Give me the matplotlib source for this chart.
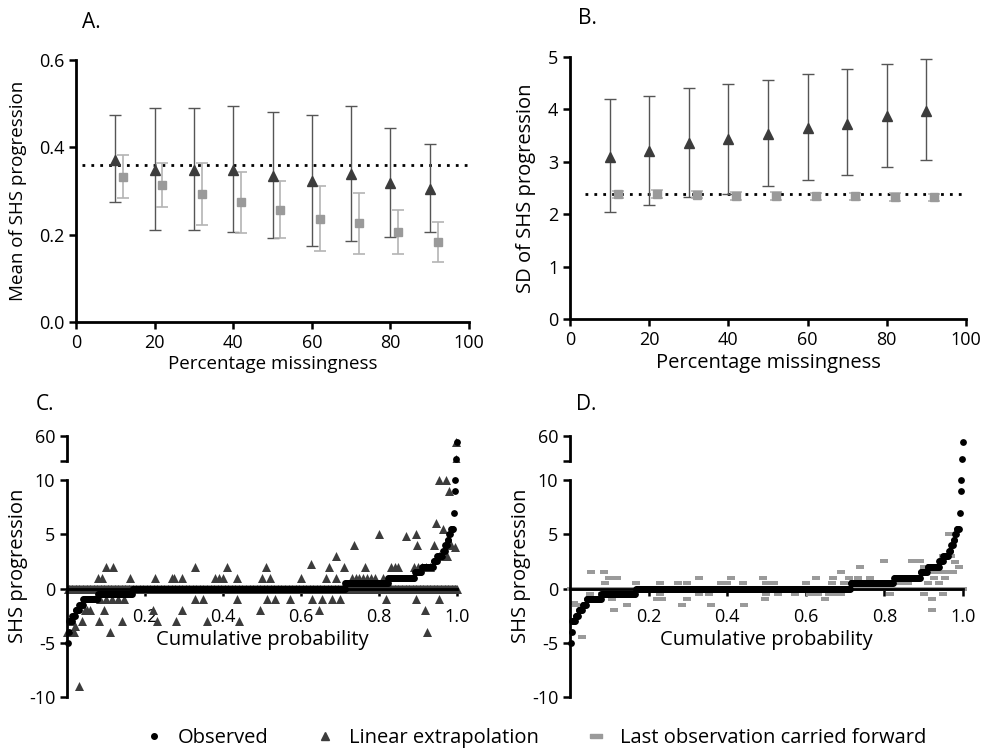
import numpy as np
import matplotlib.pyplot as plt
from matplotlib.lines import Line2D

plt.rcParams['font.family'] = ['Open Sans', 'DejaVu Sans']
plt.rcParams['axes.unicode_minus'] = False

# ---- panel A / B data: percentage missingness ----
pct_le = [10, 20, 30, 40, 50, 60, 70, 80, 90]
pct_locf = [12, 22, 32, 42, 52, 62, 72, 82, 92]

mean_le = [0.371, 0.348, 0.348, 0.348, 0.335, 0.322, 0.339, 0.318, 0.305]
mean_le_hi = [0.474, 0.489, 0.489, 0.495, 0.482, 0.473, 0.495, 0.445, 0.407]
mean_le_lo = [0.274, 0.211, 0.211, 0.205, 0.192, 0.173, 0.185, 0.194, 0.207]
mean_locf = [0.333, 0.313, 0.293, 0.274, 0.257, 0.237, 0.227, 0.207, 0.184]
mean_locf_hi = [0.383, 0.364, 0.364, 0.343, 0.322, 0.312, 0.296, 0.257, 0.229]
mean_locf_lo = [0.284, 0.263, 0.223, 0.204, 0.192, 0.162, 0.156, 0.156, 0.138]
mean_observed = 0.36

sd_le = [3.10, 3.20, 3.35, 3.43, 3.53, 3.65, 3.73, 3.87, 3.97]
sd_le_hi = [4.19, 4.26, 4.41, 4.49, 4.56, 4.68, 4.78, 4.87, 4.96]
sd_le_lo = [2.05, 2.17, 2.32, 2.38, 2.53, 2.66, 2.74, 2.91, 3.04]
sd_locf = [2.38, 2.38, 2.37, 2.35, 2.35, 2.34, 2.34, 2.33, 2.32]
sd_locf_hi = [2.45, 2.46, 2.44, 2.43, 2.42, 2.41, 2.41, 2.41, 2.39]
sd_locf_lo = [2.31, 2.30, 2.30, 2.28, 2.28, 2.27, 2.27, 2.25, 2.25]
sd_observed = 2.39

# ---- panel C / D data: observed SHS progression distribution ----
obs_levels = [-5, -4, -3, -2.5, -2, -1.5, -1, -0.5, 0, 0.5, 1, 1.5, 2, 2.5,
              3, 3.5, 4, 4.5, 5, 5.5, 7, 9, 10, 23, 50]
obs_counts = [1, 1, 4, 4, 5, 5, 19, 44, 273, 55, 34, 9, 15, 5,
              7, 3, 3, 2, 2, 4, 1, 1, 1, 1, 1]

# linear extrapolation: non-zero imputed values (cum. probability, value)
le_p = [0.0, 0.013, 0.02, 0.017, 0.038, 0.03, 0.051, 0.06, 0.045, 0.083, 0.08,
        0.09, 0.094, 0.10, 0.118, 0.11, 0.085, 0.10, 0.115, 0.13, 0.145, 0.142,
        0.162, 0.22, 0.226, 0.23, 0.27, 0.274, 0.28, 0.294, 0.294, 0.327, 0.328,
        0.35, 0.36, 0.38, 0.39, 0.40, 0.41, 0.435, 0.437, 0.442, 0.495, 0.50,
        0.509, 0.512, 0.52, 0.533, 0.572, 0.60, 0.625, 0.627, 0.647, 0.655,
        0.665, 0.672, 0.68, 0.69, 0.69, 0.70, 0.71, 0.73, 0.735, 0.74, 0.75,
        0.76, 0.764, 0.77, 0.78, 0.79, 0.80, 0.81, 0.817, 0.83, 0.84, 0.85,
        0.87, 0.89, 0.894, 0.896, 0.898, 0.90, 0.91, 0.917, 0.92, 0.923, 0.93,
        0.94, 0.947, 0.954, 0.954, 0.955, 0.96, 0.964, 0.971, 0.975, 0.98,
        0.985, 0.994, 0.997, 0.998]
le_y = [-4, -3, -3.5, -4, -3, -9, -2, -2, -2, -3, 1, 1, -2, 2, 2, -4, -1, -1,
        -1, -1, -1, -3, 1, -2, 1, -3, 1, 1, -3, 1, -2, 2, -1, -1, -3, 1, 1, 1,
        2, -1, 1, -3, -2, 1, 2, -1, 1, -1, -1, 1, 2.3, -1, -2, -1, 1, 2, -1,
        3, 1, -1, 2, 1, 4, 1, 1, 1, 2, 1, 1, 1, 5, 1, -1, 2, 2, 2, 4.8, 2, 5,
        -1, 4, 2, 2, -2, 2, -4, 2, 4, 6, 10, -1, 3, 3, 5.5, 10, 3, 9, 4, 3.8,
        23, 50]

# last observation carried forward: non-zero imputed values
locf_p = [0.01, 0.014, 0.03, 0.05, 0.053, 0.082, 0.086, 0.09, 0.10, 0.107,
          0.11, 0.113, 0.12, 0.144, 0.167, 0.222, 0.229, 0.229, 0.235, 0.275,
          0.286, 0.297, 0.297, 0.328, 0.328, 0.353, 0.36, 0.383, 0.40, 0.41,
          0.44, 0.444, 0.49, 0.495, 0.50, 0.50, 0.52, 0.53, 0.572, 0.60, 0.61,
          0.625, 0.63, 0.648, 0.66, 0.667, 0.67, 0.68, 0.69, 0.69, 0.697,
          0.71, 0.733, 0.737, 0.764, 0.80, 0.815, 0.84, 0.86, 0.87, 0.89, 0.90,
          0.90, 0.91, 0.92, 0.922, 0.925, 0.93, 0.94, 0.945, 0.95, 0.95, 0.955,
          0.96, 0.964, 0.97, 0.975, 0.98, 0.99]
locf_y = [-1.3, -1.5, -4.5, -0.5, 1.5, -0.5, 1.5, 0.5, 1, -1, 1, -2, 1, -1.5,
          0.5, -1, 0.5, -0.5, -1, 0.5, -1.5, 0.5, -1, 1, -0.5, -0.5, -1.5, 0.5,
          0.5, 1, 0.5, -1.5, 1, -1, 0.5, -0.5, 0.5, -0.5, -0.5, 0.5, -0.5, 1,
          -0.5, -1, -0.5, 0.5, 1, -0.5, 1.5, -0.5, 0.5, 1, 1, 2, 1, 2.5, -0.5,
          0.5, 0.5, 2.5, 2.5, 2, -0.5, 0.5, -1, -2, 1, 1.5, 0.5, 1.5, 3, -0.5,
          1, 1.5, 5, 3, 1.5, 2.4, 2]

W, H = 987, 751
LE_COL = '#3c3c3c'
LE_ERR = '#555555'
LOCF_COL = '#9a9a9a'
LOCF_ERR = '#b4b4b4'
rect = [(-1, -0.38), (1, -0.38), (1, 0.38), (-1, 0.38), (-1, -0.38)]

fig = plt.figure(figsize=(W / 100, H / 100), dpi=100)


def place(left, top, right, bottom):
    return fig.add_axes([left / W, 1 - bottom / H, (right - left) / W, (bottom - top) / H])


def style(ax):
    for s in ['top', 'right']:
        ax.spines[s].set_visible(False)
    for s in ['left', 'bottom']:
        ax.spines[s].set_linewidth(2)
    ax.tick_params(direction='out', length=5, width=1.8, labelsize=13)


def summary_panel(ax, le, le_lo, le_hi, locf, locf_lo, locf_hi, ref, ref_start):
    le = np.array(le)
    locf = np.array(locf)
    ax.errorbar(pct_le, le, yerr=[le - np.array(le_lo), np.array(le_hi) - le],
                fmt='^', color=LE_COL, ms=7, ecolor=LE_ERR, elinewidth=1,
                capsize=4, capthick=1, zorder=3)
    ax.errorbar(pct_locf, locf, yerr=[locf - np.array(locf_lo), np.array(locf_hi) - locf],
                fmt='s', color=LOCF_COL, ms=6, ecolor=LOCF_ERR, elinewidth=1.2,
                capsize=4, capthick=1.2, zorder=3)
    ax.plot([ref_start, 100], [ref, ref], color='black', lw=2,
            linestyle=(0, (1, 2.2)), zorder=2)
    ax.set_xlim(0, 100)
    ax.set_xticks([0, 20, 40, 60, 80, 100])
    style(ax)


# ---- A ----
axA = place(76, 60, 469, 322)
summary_panel(axA, mean_le, mean_le_lo, mean_le_hi, mean_locf, mean_locf_lo,
              mean_locf_hi, mean_observed, 1.5)
axA.set_ylim(0, 0.6)
axA.set_yticks([0.0, 0.2, 0.4, 0.6])
axA.set_yticklabels(['0.0', '0.2', '0.4', '0.6'])
axA.set_ylabel('Mean of SHS progression', fontsize=13.5)
axA.yaxis.set_label_coords(-0.125, 0.5)
axA.set_xlabel('Percentage missingness', fontsize=13.5)
axA.xaxis.set_label_coords(0.5, -0.125)

# ---- B ----
axB = place(570, 57, 966, 319)
summary_panel(axB, sd_le, sd_le_lo, sd_le_hi, sd_locf, sd_locf_lo,
              sd_locf_hi, sd_observed, 3.7)
axB.set_ylim(0, 5)
axB.set_yticks([0, 1, 2, 3, 4, 5])
axB.set_ylabel('SD of SHS progression', fontsize=14.5)
axB.yaxis.set_label_coords(-0.085, 0.5)
axB.set_xlabel('Percentage missingness', fontsize=14.5)
axB.xaxis.set_label_coords(0.5, -0.13)

# ---- C / D: cumulative probability plots with broken y axis ----
obs_vals = np.repeat(obs_levels, obs_counts)
n = len(obs_vals)
obs_p = np.arange(1, n + 1) / n


def cdf_panel(x0, x1, imp_p, imp_y, marker, color, size):
    ppu = (x1 - x0)
    left, right = x0 - 0.01 * ppu, x1 + 0.01 * ppu
    low = place(left, 697 - 20.5 * 10.85, right, 697)
    high = place(left, 434.8, right, 462.3)
    for ax in (low, high):
        ax.scatter(obs_p, np.zeros(n), marker=marker, s=size, color=color,
                   linewidths=0, zorder=2)
        ax.scatter(imp_p, imp_y, marker=marker, s=size, color=color,
                   linewidths=0, zorder=2)
        ax.scatter(obs_p, obs_vals, marker='o', s=24, color='black',
                   linewidths=0, zorder=3)
        ax.set_xlim(-0.01, 1.01)
        style(ax)
        ax.spines['left'].set_position(('data', 0))
    low.set_ylim(-10, 10.5)
    low.spines['left'].set_bounds(-10, 10)
    low.spines['bottom'].set_position(('data', 0))
    low.spines['bottom'].set_bounds(0, 1)
    low.set_yticks([-10, -5, 0, 5, 10])
    low.set_xticks([0.2, 0.4, 0.6, 0.8, 1.0])
    low.set_xticklabels(['0.2', '0.4', '0.6', '0.8', '1.0'])
    low.tick_params(axis='x', pad=9)
    low.set_ylabel('SHS progression', fontsize=14.5)
    low.yaxis.set_label_coords(-0.088, 0.59)
    low.set_xlabel('Cumulative probability', fontsize=14.5)
    low.xaxis.set_label_coords(0.5, 0.30)
    high.set_ylim(18, 62)
    high.spines['left'].set_bounds(20, 60)
    high.spines['bottom'].set_visible(False)
    high.set_xticks([])
    high.set_yticks([20, 60])
    high.set_yticklabels(['', '60'])
    return low, high


cdf_panel(67, 457, le_p, le_y, '^', LE_COL, 42)
cdf_panel(570, 963, locf_p, locf_y, rect, LOCF_COL, 40)

fig.text(82 / W, 1 - 22 / H, 'A.', fontsize=15, va='center')
fig.text(578 / W, 1 - 18 / H, 'B.', fontsize=15, va='center')
fig.text(36 / W, 1 - 404 / H, 'C.', fontsize=15, va='center')
fig.text(576 / W, 1 - 404 / H, 'D.', fontsize=15, va='center')

handles = [
    Line2D([], [], ls='none', marker='o', ms=4, color='black'),
    Line2D([], [], ls='none', marker='^', ms=6, color=LE_COL),
    Line2D([], [], ls='none', marker=rect, ms=8, color=LOCF_COL),
]
fig.legend(handles, ['Observed', 'Linear extrapolation', 'Last observation carried forward'],
           loc='center', bbox_to_anchor=(0.541, 1 - 738 / H), ncol=3, frameon=False,
           fontsize=14.5, columnspacing=2.2, handlelength=1.2, handletextpad=0.6)

fig.savefig('out.png', dpi=100)
